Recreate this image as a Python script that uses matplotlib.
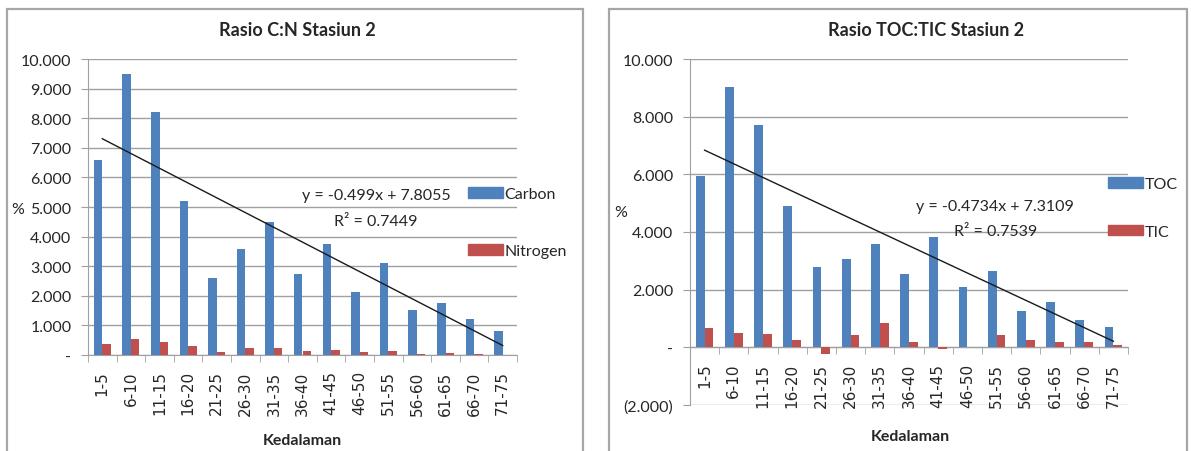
import matplotlib.pyplot as plt
import numpy as np
from matplotlib.patches import Rectangle, Patch
from matplotlib.ticker import FuncFormatter

plt.rcParams['font.family'] = ['Lato', 'DejaVu Sans']

# Depth intervals (cm) and measured percentages
depth = ['1-5', '6-10', '11-15', '16-20', '21-25', '26-30', '31-35', '36-40',
         '41-45', '46-50', '51-55', '56-60', '61-65', '66-70', '71-75']
carbon = [6.60, 9.50, 8.20, 5.20, 2.60, 3.57, 4.48, 2.73, 3.75, 2.13, 3.12, 1.52, 1.77, 1.20, 0.80]
nitrogen = [0.38, 0.53, 0.45, 0.30, 0.10, 0.22, 0.22, 0.14, 0.18, 0.10, 0.14, 0.03, 0.08, 0.03, 0.01]
toc = [5.93, 9.02, 7.72, 4.90, 2.80, 3.08, 3.60, 2.56, 3.82, 2.10, 2.66, 1.25, 1.57, 0.95, 0.70]
tic = [0.66, 0.50, 0.47, 0.24, -0.22, 0.44, 0.84, 0.17, -0.07, 0.0, 0.43, 0.25, 0.18, 0.20, 0.08]

# Linear trendlines on the first series (x = 1..15)
cn_slope, cn_icept, cn_r2 = -0.499, 7.8055, 0.7449
tt_slope, tt_icept, tt_r2 = -0.4734, 7.3109, 0.7539

BLUE = '#4f81bd'
RED = '#c0504d'
GRID = '#a0a0a0'
TXT = '#262626'

W, H = 1191, 452
fig = plt.figure(figsize=(W / 100, H / 100), dpi=100)


def px_axes(x0, y0, x1, y1):
    return fig.add_axes([x0 / W, 1 - y1 / H, (x1 - x0) / W, (y1 - y0) / H])


def fx(x):
    return x / W


def fy(y):
    return 1 - y / H


def acct(v, pos):
    if abs(v) < 1e-9:
        return '-'
    if v < 0:
        return '({:.3f})'.format(-v)
    return '{:.3f}'.format(v)


# panel frames
for x0, x1 in [(7, 583), (609, 1187)]:
    fig.patches.append(Rectangle((fx(x0), fy(470)), fx(x1 - x0), fy(10) - fy(470),
                                 transform=fig.transFigure, fill=False,
                                 edgecolor='#a6a6a6', linewidth=1.6))


def draw(ax, s1, s2, ymin, ymax, step, slope, icept):
    x = np.arange(len(depth))
    w = 0.3
    # category axis sits on y = 0 (set first, it resets the ticks)
    for s in ['top', 'right']:
        ax.spines[s].set_visible(False)
    ax.spines['left'].set_color(GRID)
    ax.spines['bottom'].set_color(GRID)
    ax.spines['bottom'].set_position(('data', 0))

    ax.bar(x - w / 2, s1, width=w, color=BLUE, zorder=3)
    ax.bar(x + w / 2, s2, width=w, color=RED, zorder=3)
    ax.plot(x, slope * (x + 1) + icept, color='#1a1a1a', linewidth=1.0, zorder=4)
    ax.set_xlim(-0.5, len(depth) - 0.5)
    ax.set_ylim(ymin, ymax)
    ax.set_yticks(np.arange(ymin, ymax + step / 2, step))
    ax.yaxis.set_major_formatter(FuncFormatter(acct))
    ax.yaxis.grid(True, color=GRID, linewidth=1.0, zorder=0)
    ax.set_axisbelow(True)
    ax.set_xticks(x)
    ax.set_xticklabels(depth, fontfamily='DejaVu Sans')
    ax.set_xticks(np.arange(-0.5, len(depth)), minor=True)
    ax.tick_params(axis='x', which='major', length=0, pad=11, labelrotation=90,
                   labelsize=11, labelcolor=TXT)
    ax.tick_params(axis='x', which='minor', length=5, color=GRID, direction='out')
    ax.tick_params(axis='y', length=5, color=GRID, labelsize=11.5, labelcolor=TXT, pad=7)
    ax.patch.set_alpha(0)


# C:N panel
ax1 = px_axes(88, 60, 517, 356)
draw(ax1, carbon, nitrogen, 0, 10, 1, cn_slope, cn_icept)
fig.text(fx(297), fy(31), 'Rasio C:N Stasiun 2', ha='center', va='center',
         fontsize=13, fontweight='bold', color=TXT)
fig.text(fx(18), fy(210), '%', ha='center', va='center', fontsize=11.5, color=TXT)
fig.text(fx(302), fy(441), 'Kedalaman', ha='center', va='center',
         fontsize=11.5, fontweight='bold', color=TXT)
fig.text(fx(376), fy(196), 'y = {}x + {}'.format(cn_slope, cn_icept), ha='center',
         va='center', fontsize=11.5, color=TXT)
fig.text(fx(376), fy(222), 'R² = {}'.format(cn_r2), ha='center', va='center',
         fontsize=11.5, color=TXT)
ax1.legend(handles=[Patch(color=BLUE, label='Carbon'), Patch(color=RED, label='Nitrogen')],
           loc='upper left', bbox_to_anchor=(fx(468), fy(188)), bbox_transform=fig.transFigure,
           frameon=False, fontsize=11.5, handlelength=2.2, handleheight=0.65,
           handletextpad=0.1, labelspacing=2.7, borderpad=0, borderaxespad=0,
           labelcolor=TXT)

# TOC:TIC panel
ax2 = px_axes(690, 60, 1128, 406)
draw(ax2, toc, tic, -2, 10, 2, tt_slope, tt_icept)
fig.text(fx(926), fy(31), 'Rasio TOC:TIC Stasiun 2', ha='center', va='center',
         fontsize=13, fontweight='bold', color=TXT)
fig.text(fx(621), fy(213), '%', ha='center', va='center', fontsize=11.5, color=TXT)
fig.text(fx(910), fy(437), 'Kedalaman', ha='center', va='center',
         fontsize=11.5, fontweight='bold', color=TXT)
fig.text(fx(995), fy(207), 'y = {}x + {}'.format(tt_slope, tt_icept), ha='center',
         va='center', fontsize=11.5, color=TXT)
fig.text(fx(996), fy(232), 'R² = {}'.format(tt_r2), ha='center', va='center',
         fontsize=11.5, color=TXT)
ax2.legend(handles=[Patch(color=BLUE, label='TOC'), Patch(color=RED, label='TIC')],
           loc='upper left', bbox_to_anchor=(fx(1108), fy(178)), bbox_transform=fig.transFigure,
           frameon=False, fontsize=11.5, handlelength=2.2, handleheight=0.65,
           handletextpad=0.1, labelspacing=2.1, borderpad=0, borderaxespad=0,
           labelcolor=TXT)

fig.savefig('out.png', dpi=100)
